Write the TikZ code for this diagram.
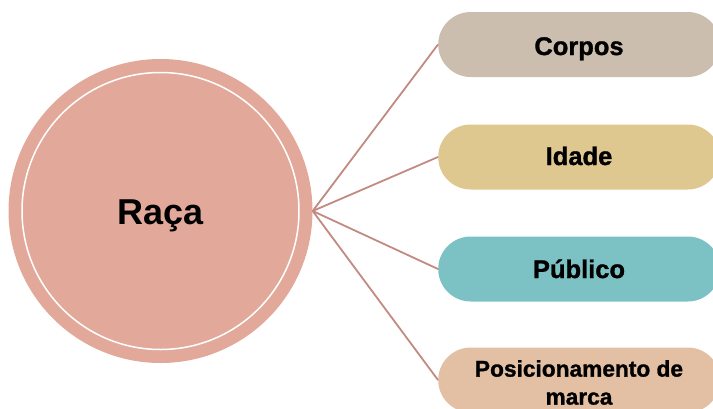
\documentclass[tikz,border=0pt]{standalone}
\usepackage{fontspec}
\setmainfont{Liberation Sans}
\newfontfamily\pillfont{Liberation Sans}[UprightFont=* Bold, BoldFont=* Bold, FakeBold=1.2]
\definecolor{circfill}{HTML}{E2A99A}
\definecolor{linkcol}{HTML}{C28A80}
\definecolor{cCorpos}{HTML}{CCBEAE}
\definecolor{cIdade}{HTML}{DFC88F}
\definecolor{cPublico}{HTML}{7CC2C5}
\definecolor{cPos}{HTML}{E3C0A4}
\begin{document}
\begin{tikzpicture}[x=1pt,y=-1pt,
  pill/.style={rounded corners=32.5pt, minimum width=282pt, minimum height=65pt, inner sep=0pt, anchor=west},
  pilltext/.style={font=\pillfont\fontsize{25.5}{30}\selectfont, text=black, align=center, inner sep=0pt, anchor=base},
  pillsmall/.style={font=\pillfont\fontsize{22.7}{28}\selectfont, text=black, align=center, inner sep=0pt},
  link/.style={draw=linkcol, line width=1.8pt}]
\useasboundingbox (0,0) rectangle (713,408);
\clip (0,0) rectangle (713,408);
\node[circle, fill=circfill, minimum size=304pt, inner sep=0pt] (raca) at (160.5,211) {};
\draw[white, line width=1.5pt] (raca.center) circle (138.5pt);
\node[font=\bfseries\fontsize{36}{40}\selectfont, anchor=base] (racatext) at (160.5,224) {Raça};
\node[pill, fill=cCorpos] (corpos) at (438,44.5) {};
\node[pill, fill=cIdade] (idade) at (438,157) {};
\node[pill, fill=cPublico] (publico) at (438,269) {};
\node[pill, fill=cPos] (pos) at (438,380) {};
\node[pilltext] (tcorpos) at (579,55) {Corpos};
\node[pilltext] (tidade) at (579,165) {Idade};
\node[pilltext] (tpublico) at (579,278) {Público};
\node[pillsmall] (tpos) at (579,382.5) {Posicionamento de\\marca};
\draw[link] (raca.east) -- (corpos.west);
\draw[link] (raca.east) -- (idade.west);
\draw[link] (raca.east) -- (publico.west);
\draw[link] (raca.east) -- (pos.west);
\end{tikzpicture}
\end{document}
